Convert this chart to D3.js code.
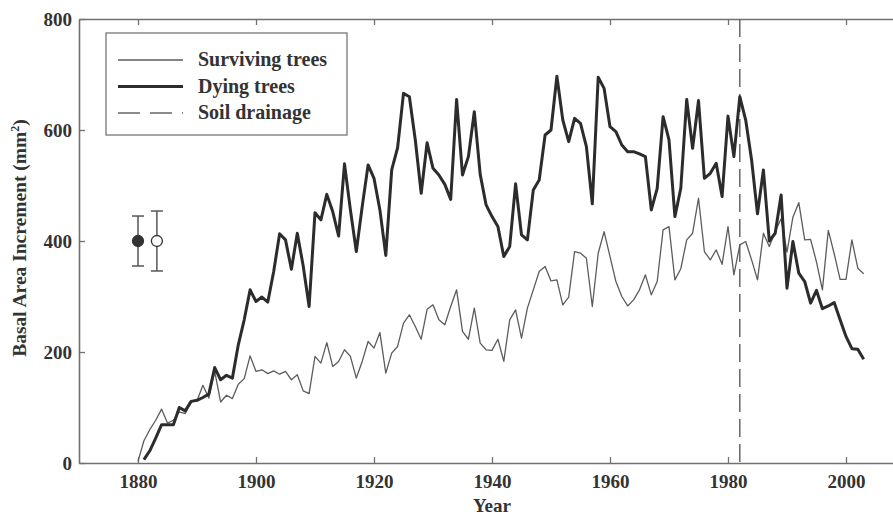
<!DOCTYPE html>
<html>
<head>
<meta charset="utf-8">
<script src="https://cdn.jsdelivr.net/npm/d3@7"></script>
<style>
  body { margin: 0; background: #fff; }
  svg text { font-family: "Liberation Serif", "Times New Roman", serif; font-weight: bold; fill: #333; }
</style>
</head>
<body>
<div class="visHolder"></div>
<script>
// surviving trees, 1880 - 2003
let survStart = 1880;
let surviving = [3, 40, 60, 77, 97, 72, 77, 92, 89, 110,
  112, 140, 117, 165, 110, 122, 116, 142, 152, 193,
  165, 168, 161, 166, 160, 165, 150, 159, 130, 125,
  192, 180, 217, 174, 183, 204, 192, 153, 183, 219,
  207, 235, 162, 198, 210, 252, 267, 246, 223, 277,
  285, 258, 249, 282, 312, 237, 223, 279, 216, 204,
  203, 223, 183, 258, 276, 225, 279, 312, 345, 354,
  328, 330, 285, 299, 381, 378, 369, 282, 378, 417,
  372, 327, 300, 283, 294, 312, 339, 303, 327, 420,
  426, 330, 350, 402, 414, 477, 381, 366, 384, 358,
  426, 339, 393, 399, 366, 330, 414, 390, 417, 440,
  380, 443, 469, 402, 403, 362, 312, 419, 377, 331,
  331, 402, 351, 341];

// dying trees, 1881 - 2003
let dyingStart = 1881;
let dying = [6, 22, 45, 69, 69, 69, 100, 94, 111,
  113, 118, 124, 172, 150, 158, 153, 213, 258, 312,
  291, 299, 290, 345, 413, 402, 349, 414, 355, 282,
  451, 438, 484, 453, 409, 539, 456, 381, 462, 537,
  513, 456, 374, 528, 568, 666, 660, 582, 486, 577,
  531, 519, 502, 475, 655, 519, 552, 633, 520, 465,
  444, 426, 372, 390, 503, 411, 402, 492, 510, 591,
  600, 697, 618, 579, 621, 612, 570, 467, 695, 675,
  606, 597, 573, 561, 561, 557, 552, 456, 495, 624,
  582, 444, 495, 655, 567, 653, 513, 522, 540, 480,
  625, 552, 660, 618, 546, 449, 528, 400, 414, 483,
  315, 399, 342, 327, 288, 311, 278, 283, 289, 258,
  228, 206, 205, 187];

let drainageYear = 1982;

// mean +- error markers (filled = dying, open = surviving)
let errYears = [1880, 1883.2];
let errMeans = [400, 400];
let errSizes = [45, 54];
let errFilled = [true, false];

let xTicks = [1880, 1900, 1920, 1940, 1960, 1980, 2000];
let yTicks = [0, 200, 400, 600, 800];
let legendLabels = ["Surviving trees", "Dying trees", "Soil drainage"];

let width = 893;
let height = 517;
let mLeft = 79, mRight = 905, mTop = 19, mBottom = 463;

let svg = d3.select(".visHolder").append("svg")
  .attr("width", width)
  .attr("height", height);

let xScale = d3.scaleLinear().domain([1870, 2010]).range([mLeft, mRight]);
let yScale = d3.scaleLinear().domain([0, 800]).range([mBottom, mTop]);

let axisColor = "#707070";

// box with inward ticks
function styleAxis(g) {
  g.select(".domain").attr("stroke", axisColor).attr("stroke-width", 1.6);
  g.selectAll(".tick line").attr("stroke", axisColor).attr("stroke-width", 1.3);
  g.selectAll(".tick text").attr("fill", "#333").style("font-size", "19px");
}

svg.append("g")
  .attr("transform", "translate(0," + mBottom + ")")
  .call(d3.axisBottom(xScale).tickValues(xTicks).tickSizeInner(-6).tickSizeOuter(0).tickPadding(12).tickFormat(d3.format("d")))
  .call(styleAxis);

svg.append("g")
  .attr("transform", "translate(0," + mTop + ")")
  .call(d3.axisTop(xScale).tickValues(xTicks).tickSizeInner(-6).tickSizeOuter(0).tickFormat(""))
  .call(styleAxis);

svg.append("g")
  .attr("transform", "translate(" + mLeft + ",0)")
  .call(d3.axisLeft(yScale).tickValues(yTicks).tickSizeInner(-6).tickSizeOuter(0).tickPadding(7))
  .call(styleAxis);

svg.append("g")
  .attr("transform", "translate(" + mRight + ",0)")
  .call(d3.axisRight(yScale).tickValues(yTicks).tickSizeInner(-6).tickSizeOuter(0).tickFormat(""))
  .call(styleAxis);

// soil drainage
svg.append("line")
  .attr("x1", xScale(drainageYear)).attr("x2", xScale(drainageYear))
  .attr("y1", yScale(800)).attr("y2", yScale(0))
  .attr("stroke", "#666")
  .attr("stroke-width", 1.5)
  .attr("stroke-dasharray", "18,7");

let line = d3.line()
  .x(function (d) { return xScale(d[0]); })
  .y(function (d) { return yScale(d[1]); });

let survPts = surviving.map(function (v, i) { return [survStart + i, v]; });
let dyingPts = dying.map(function (v, i) { return [dyingStart + i, v]; });

svg.append("path")
  .datum(survPts)
  .attr("d", line)
  .attr("fill", "none")
  .attr("stroke", "#5c5c5c")
  .attr("stroke-width", 1.3)
  .attr("stroke-linejoin", "round");

svg.append("path")
  .datum(dyingPts)
  .attr("d", line)
  .attr("fill", "none")
  .attr("stroke", "#2c2c2c")
  .attr("stroke-width", 3)
  .attr("stroke-linejoin", "round");

// error bars
errYears.forEach(function (yr, i) {
  let g = svg.append("g");
  let cx = xScale(yr);
  g.append("line")
    .attr("x1", cx).attr("x2", cx)
    .attr("y1", yScale(errMeans[i] + errSizes[i]))
    .attr("y2", yScale(errMeans[i] - errSizes[i]))
    .attr("stroke", "#555").attr("stroke-width", 1.5);
  [errMeans[i] + errSizes[i], errMeans[i] - errSizes[i]].forEach(function (v) {
    g.append("line")
      .attr("x1", cx - 6).attr("x2", cx + 6)
      .attr("y1", yScale(v)).attr("y2", yScale(v))
      .attr("stroke", "#555").attr("stroke-width", 1.5);
  });
  g.append("circle")
    .attr("cx", cx).attr("cy", yScale(errMeans[i]))
    .attr("r", 5.5)
    .attr("fill", errFilled[i] ? "#333" : "#fff")
    .attr("stroke", "#333").attr("stroke-width", 1.3);
});

// legend
let legend = svg.append("g");
legend.append("rect")
  .attr("x", 106).attr("y", 33)
  .attr("width", 241).attr("height", 102)
  .attr("fill", "#fff")
  .attr("stroke", "#777").attr("stroke-width", 1.3);

let legendStyles = [
  { w: 1.3, c: "#5c5c5c", dash: null },
  { w: 3, c: "#2c2c2c", dash: null },
  { w: 1.3, c: "#666", dash: "22,10" }
];

legendLabels.forEach(function (lab, i) {
  let y = 60 + i * 26.5;
  legend.append("line")
    .attr("x1", 118).attr("x2", 183)
    .attr("y1", y).attr("y2", y)
    .attr("stroke", legendStyles[i].c)
    .attr("stroke-width", legendStyles[i].w)
    .attr("stroke-dasharray", legendStyles[i].dash);
  legend.append("text")
    .attr("x", 198).attr("y", y + 6)
    .style("font-size", "20px")
    .text(lab);
});

// axis titles
svg.append("text")
  .attr("x", (mLeft + mRight) / 2)
  .attr("y", 512)
  .attr("text-anchor", "middle")
  .style("font-size", "19px")
  .text("Year");

let yTitle = svg.append("text")
  .attr("transform", "translate(26,238) rotate(-90)")
  .attr("text-anchor", "middle")
  .style("font-size", "19.5px");
yTitle.append("tspan").text("Basal Area Increment (mm");
yTitle.append("tspan").attr("baseline-shift", "super").style("font-size", "12px").text("2");
yTitle.append("tspan").text(")");
</script>
</body>
</html>
